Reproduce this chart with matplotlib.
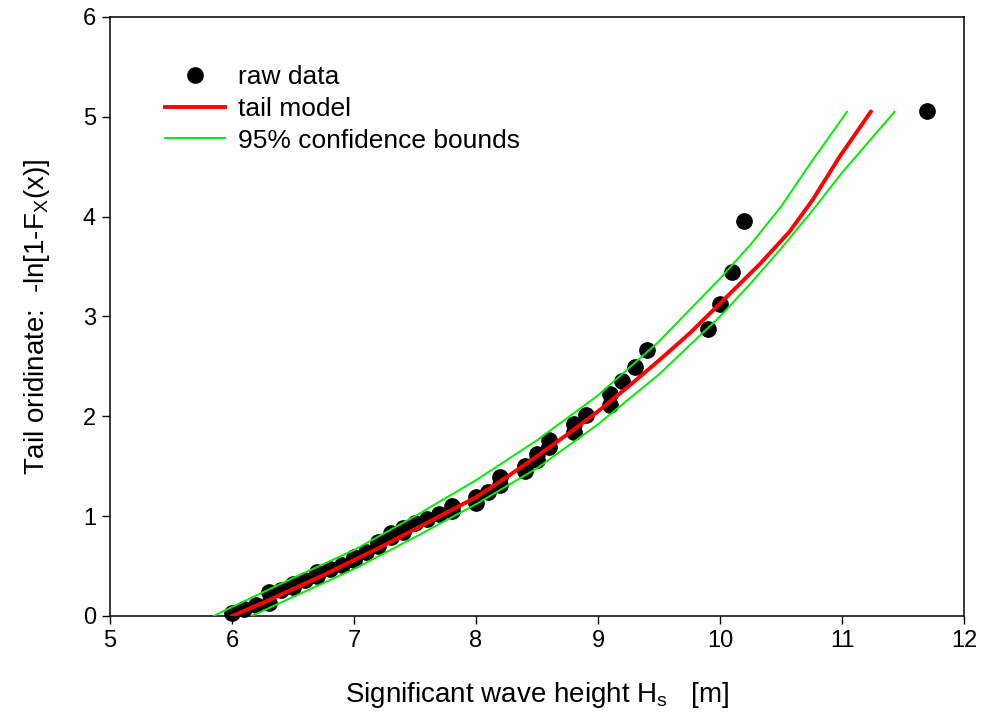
import matplotlib.pyplot as plt

plt.rcParams['font.family'] = ['Liberation Sans', 'DejaVu Sans']
plt.rcParams['mathtext.fontset'] = 'custom'
plt.rcParams['mathtext.rm'] = 'Liberation Sans'
plt.rcParams['mathtext.it'] = 'Liberation Sans'

# raw data: sorted Hs values and their tail ordinates
hs_raw = [6.0, 6.1, 6.2, 6.3, 6.3, 6.4, 6.5, 6.5, 6.6, 6.7, 6.7, 6.8, 6.9,
          7.0, 7.0, 7.1, 7.2, 7.2, 7.3, 7.3, 7.4, 7.4, 7.5, 7.6, 7.7, 7.8,
          7.8, 8.0, 8.0, 8.1, 8.2, 8.2, 8.4, 8.4, 8.5, 8.5, 8.6, 8.6, 8.8,
          8.8, 8.9, 9.1, 9.1, 9.2, 9.3, 9.4, 9.9, 10.0, 10.1, 10.2, 11.7]
tail_raw = [0.03, 0.07, 0.11, 0.13, 0.24, 0.26, 0.29, 0.32, 0.36, 0.40, 0.44,
            0.47, 0.51, 0.56, 0.59, 0.64, 0.70, 0.74, 0.79, 0.83, 0.84, 0.88,
            0.93, 0.97, 1.02, 1.05, 1.10, 1.13, 1.19, 1.24, 1.31, 1.39, 1.45,
            1.50, 1.56, 1.62, 1.69, 1.76, 1.84, 1.92, 2.01, 2.11, 2.22, 2.35,
            2.49, 2.66, 2.87, 3.12, 3.45, 3.96, 5.06]

# fitted tail model
hs_model = [6.0, 6.25, 6.5, 6.75, 7.0, 7.25, 7.5, 7.75, 8.0, 8.25, 8.5, 8.75,
            9.0, 9.25, 9.5, 9.75, 10.0, 10.33, 10.57, 10.76, 10.98, 11.235]
tail_model = [0.0, 0.13, 0.27, 0.41, 0.56, 0.71, 0.87, 1.03, 1.19, 1.39, 1.60,
              1.82, 2.05, 2.30, 2.56, 2.83, 3.13, 3.53, 3.85, 4.17, 4.60, 5.05]

# 95% confidence bounds
hs_upper = [5.85, 6.0, 6.5, 7.0, 7.5, 8.0, 8.5, 9.0, 9.5, 10.0, 10.25, 10.5,
            10.75, 11.04]
tail_upper = [0.0, 0.09, 0.38, 0.66, 1.00, 1.36, 1.76, 2.21, 2.75, 3.38, 3.72,
              4.10, 4.55, 5.05]
hs_lower = [6.16, 6.5, 7.0, 7.5, 8.0, 8.5, 9.0, 9.5, 10.0, 10.25, 10.5, 10.75,
            11.0, 11.43]
tail_lower = [0.0, 0.19, 0.47, 0.79, 1.12, 1.48, 1.92, 2.42, 3.00, 3.33, 3.68,
              4.05, 4.44, 5.05]

fig = plt.figure(figsize=(9.91, 7.19), dpi=100)
ax = fig.add_axes([0.111, 0.1433, 0.8618, 0.8331])

ax.plot(hs_raw, tail_raw, 'o', color='black', markersize=11, zorder=2,
        clip_on=False, label='raw data')
ax.plot(hs_model, tail_model, color='#ff0000', lw=2.8, zorder=4, label='tail model')
ax.plot(hs_upper, tail_upper, color='#00ee00', lw=1.4, zorder=3,
        label='95% confidence bounds')
ax.plot(hs_lower, tail_lower, color='#00ee00', lw=1.4, zorder=3)

ax.set_xlim(5, 12)
ax.set_ylim(0, 6)
ax.set_xticks(range(5, 13))
ax.set_yticks(range(0, 7))
ax.tick_params(direction='out', length=6, width=1, labelsize=17, pad=4,
               top=False, right=False)
for s in ax.spines.values():
    s.set_linewidth(1.1)

ax.set_xlabel('Significant wave height H$_\\mathregular{s}$   [m]', fontsize=20, labelpad=20)
ax.set_ylabel('Tail oridinate:  -ln[1-F$_\\mathregular{X}$(x)]', fontsize=20, labelpad=22)

ax.legend(loc='upper left', bbox_to_anchor=(0.064, 0.92), frameon=False,
          fontsize=19, handlelength=2.27, handletextpad=0.5, labelspacing=0.3,
          borderpad=0, borderaxespad=0)

fig.savefig('out.png', dpi=100)
